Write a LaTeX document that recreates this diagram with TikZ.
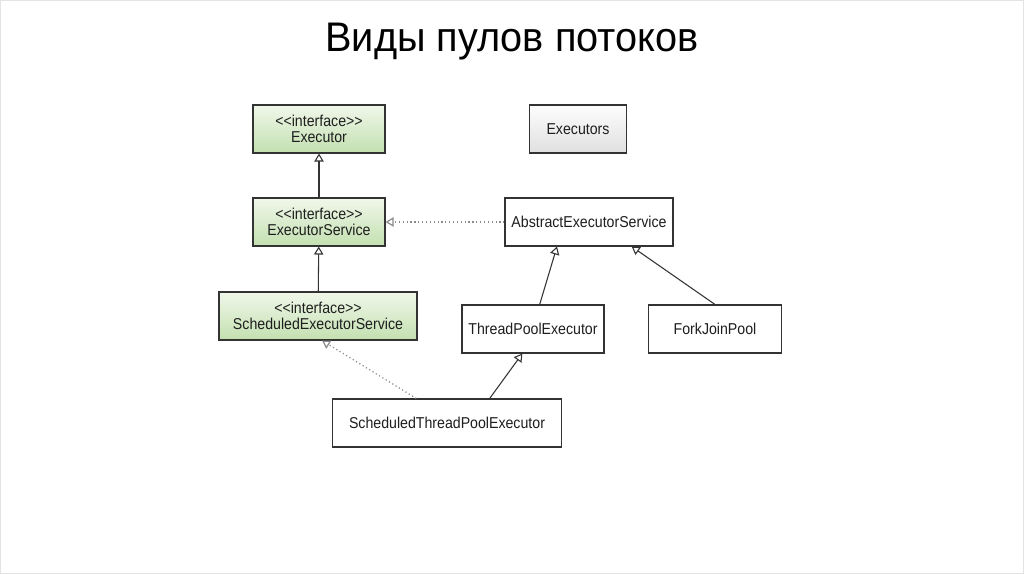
\documentclass[tikz,border=0pt]{standalone}
\usepackage{fontspec}
\setmainfont{Liberation Sans}
\newfontfamily\titlefont[FakeStretch=0.96]{Liberation Sans}
\newfontfamily\umlfont[FakeStretch=0.9]{Liberation Sans}
\usetikzlibrary{arrows.meta,positioning}
\definecolor{cLine}{HTML}{333333}
\definecolor{cText}{HTML}{1E1E1E}
\definecolor{cIfTop}{HTML}{F0F8EA}
\definecolor{cIfBot}{HTML}{C3E0B0}
\definecolor{cUtTop}{HTML}{FDFDFD}
\definecolor{cUtBot}{HTML}{E0E0E0}
\definecolor{cDot}{HTML}{8A8A8A}
\definecolor{cFrame}{HTML}{E4E4E4}
\newcommand{\stereo}{<{}<interface>{}>}
\tikzset{
  uml/box/.style  ={draw=cLine, line width=0.8pt, minimum height=36pt,
                    font=\umlfont\fontsize{11.8}{11.8}\selectfont, text=cText,
                    fill=white, inner sep=2pt, align=center},
  uml/iface/.style={uml/box, top color=cIfTop, bottom color=cIfBot},
  uml/util/.style ={uml/box, top color=cUtTop, bottom color=cUtBot},
  uml/inh/.style  ={-{Triangle[open, length=6pt, width=7pt]}, cLine,
                    line width=0.8pt},
  uml/impl/.style ={-{Triangle[open, length=6pt, width=7pt]}, cDot,
                    line width=0.9pt, dotted},
  uml/title/.style={font=\titlefont\fontsize{31}{36}\selectfont, text=black}
}

\begin{document}
\begin{tikzpicture}[x=0.75pt, y=-0.75pt]
    % slide frame
    \draw[cFrame, fill=white] (0.5,0.5) rectangle (1023.5,573.5);
    \useasboundingbox (0,0) rectangle (1024,574);

    \node[uml/title] (title) at (512,42) {Виды пулов потоков};

    % interfaces (left column)
    \node[uml/iface, minimum width=99pt]   (exec) at (319,129) {\stereo\\Executor};
    \node[uml/iface, minimum width=99pt]   (es)   at (319,222) {\stereo\\ExecutorService};
    \node[uml/iface, minimum width=148.5pt](ses)  at (318,316) {\stereo\\ScheduledExecutorService};

    % classes
    \node[uml/util, minimum width=73pt]    (util) at (578,129) {Executors};
    \node[uml/box,  minimum width=126pt]   (abs)  at (589,222) {AbstractExecutorService};
    \node[uml/box,  minimum width=106.5pt] (tpe)  at (533,329) {ThreadPoolExecutor};
    \node[uml/box,  minimum width=100pt]   (fjp)  at (715,329) {ForkJoinPool};
    \node[uml/box,  minimum width=172pt]   (stpe) at (447,423) {ScheduledThreadPoolExecutor};

    % extends
    \draw[uml/inh] (es) -- (exec);
    \draw[uml/inh] (ses) -- (es);
    \draw[uml/inh] ([xshift=5pt]tpe.north) -- ([xshift=-24pt]abs.south);
    \draw[uml/inh] (fjp.north) -- ([xshift=32pt]abs.south);
    \draw[uml/inh] ([xshift=32pt]stpe.north) -- ([xshift=-8pt]tpe.south);

    % implements
    \draw[uml/impl] (abs.west) -- (es.east);
    \draw[uml/impl] ([xshift=-23pt]stpe.north) -- ([xshift=3pt]ses.south);
\end{tikzpicture}
\end{document}
